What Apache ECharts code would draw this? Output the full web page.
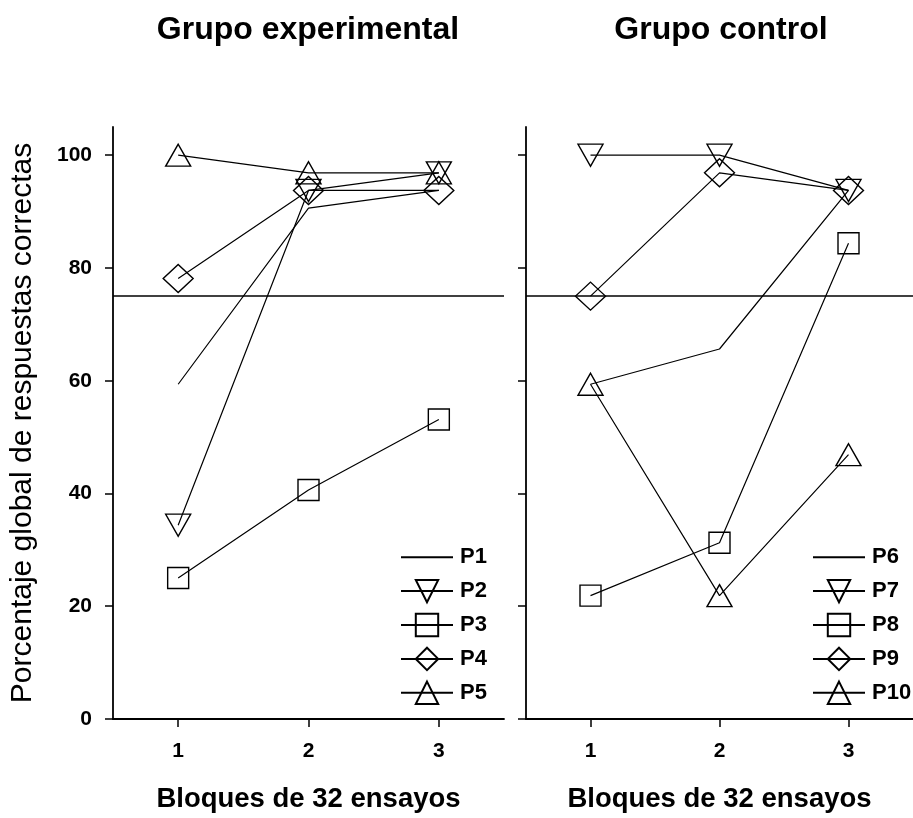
<!DOCTYPE html>
<html>
<head>
<meta charset="utf-8">
<script src="https://cdn.jsdelivr.net/npm/echarts@6/dist/echarts.min.js"></script>
<style>html,body{margin:0;padding:0;background:#fff}#c{width:913px;height:818px}</style>
</head>
<body>
<div id="c"></div>
<script>
// ---- data ----
const blocks = ['1', '2', '3'];
const yTicks = [0, 20, 40, 60, 80, 100];
const criterion = 75;
const titles = ['Grupo experimental', 'Grupo control'];
const xTitle = 'Bloques de 32 ensayos';
const yTitle = 'Porcentaje global de respuestas correctas';

const P1 = [59.375, 90.625, 93.75];
const P2 = [34.375, 93.75, 96.875];
const P3 = [25, 40.625, 53.125];
const P4 = [78.125, 93.75, 93.75];
const P5 = [100, 96.875, 96.875];

const P6 = [59.375, 65.625, 93.75];
const P7 = [100, 100, 93.75];
const P8 = [21.875, 31.25, 84.375];
const P9 = [75, 96.875, 93.75];
const P10 = [59.375, 21.875, 46.875];

const groupA = [['P1', P1], ['P2', P2], ['P3', P3], ['P4', P4], ['P5', P5]];
const groupB = [['P6', P6], ['P7', P7], ['P8', P8], ['P9', P9], ['P10', P10]];

// ---- styles ----
const FONT = 'Liberation Sans, Arial, sans-serif';
const markerStyles = [
  { symbol: 'none' },
  { symbol: 'triangle', symbolSize: [25, 22], symbolRotate: 180 },
  { symbol: 'rect', symbolSize: [21, 21] },
  { symbol: 'diamond', symbolSize: [30, 28] },
  { symbol: 'triangle', symbolSize: [25, 22] }
];

function makeSeries(group, idx) {
  return group.map(function (g, i) {
    const s = Object.assign({
      name: g[0],
      type: 'line',
      xAxisIndex: idx,
      yAxisIndex: idx,
      data: g[1],
      showAllSymbol: true,
      animation: false,
      lineStyle: { color: '#000', width: 1.2 },
      itemStyle: { color: 'rgba(0,0,0,0)', borderColor: '#000', borderWidth: 1.4 },
      emphasis: { disabled: true },
      z: 3
    }, markerStyles[i]);
    if (i === 0) {
      s.markLine = {
        silent: true,
        symbol: 'none',
        label: { show: false },
        lineStyle: { color: '#000', width: 1.5, type: 'solid' },
        data: [{ yAxis: criterion }],
        animation: false
      };
    }
    return s;
  });
}

function legendData(group) {
  return group.map(function (g, i) {
    return i === 0 ? { name: g[0], itemStyle: { opacity: 0 } } : { name: g[0] };
  });
}

const axisLine = { show: true, lineStyle: { color: '#000', width: 1.8 } };
const axisTick = { show: true, length: 8, lineStyle: { color: '#000', width: 1.5 } };

function xAxis(gi) {
  return {
    type: 'category', gridIndex: gi, data: blocks, boundaryGap: true,
    axisLine: axisLine,
    axisTick: Object.assign({ alignWithLabel: true }, axisTick),
    axisLabel: { margin: 22, fontSize: 21, fontWeight: 'bold', color: '#000', fontFamily: FONT },
    name: xTitle, nameLocation: 'middle', nameGap: 66,
    nameTextStyle: { fontSize: 27.5, fontWeight: 'bold', color: '#000', fontFamily: FONT },
    splitLine: { show: false }
  };
}

function yAxis(gi, withLabels) {
  const a = {
    type: 'value', gridIndex: gi, min: 0, max: 105,
    axisLine: axisLine,
    axisTick: Object.assign({ customValues: yTicks }, axisTick),
    axisLabel: { show: withLabels, customValues: yTicks, margin: 21, fontSize: 21, fontWeight: 'bold', color: '#000', fontFamily: FONT },
    splitLine: { show: false }
  };
  if (withLabels) {
    a.name = yTitle;
    a.nameLocation = 'middle';
    a.nameRotate = 90;
    a.nameGap = 75;
    a.nameTextStyle = { fontSize: 30, color: '#000', fontFamily: FONT };
  }
  return a;
}

const legendCommon = {
  orient: 'vertical', itemWidth: 52, itemHeight: 28, itemGap: 9.5,
  top: 540, selectedMode: false,
  textStyle: { fontSize: 22, fontWeight: 'bold', color: '#000', fontFamily: FONT, padding: [0, 0, 0, 2] }
};

const option = {
  backgroundColor: '#fff',
  animation: false,
  title: [
    { text: titles[0], left: 308, top: 14, textAlign: 'center', padding: 0,
      textStyle: { fontSize: 32, fontWeight: 'bold', color: '#000', fontFamily: FONT } },
    { text: titles[1], left: 721, top: 14, textAlign: 'center', padding: 0,
      textStyle: { fontSize: 32, fontWeight: 'bold', color: '#000', fontFamily: FONT } }
  ],
  grid: [
    { left: 113, top: 127, width: 391, height: 592 },
    { left: 526, top: 127, width: 390, height: 592 }
  ],
  xAxis: [xAxis(0), xAxis(1)],
  yAxis: [yAxis(0, true), yAxis(1, false)],
  legend: [
    Object.assign({ left: 395, data: legendData(groupA) }, legendCommon),
    Object.assign({ left: 807, data: legendData(groupB) }, legendCommon)
  ],
  series: makeSeries(groupA, 0).concat(makeSeries(groupB, 1))
};

const chart = echarts.init(document.getElementById('c'), null, { renderer: 'canvas' });
chart.setOption(option);
</script>
</body>
</html>
